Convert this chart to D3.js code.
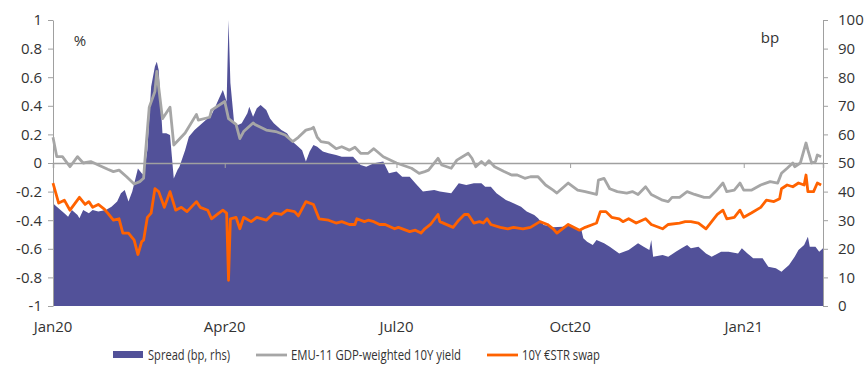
<!DOCTYPE html>
<html><head><meta charset="utf-8">
<script src="https://cdn.jsdelivr.net/npm/d3@7/dist/d3.min.js"></script>
<style>
body{margin:0;background:#fff;}
text{font-family:"Open Sans","Noto Sans",sans-serif;fill:#333;}
</style></head>
<body><svg id="c" width="865" height="365"></svg>
<script>
// ---- data ----
const xTickDates = ["2020-01-01","2020-04-01","2020-07-01","2020-10-01","2021-01-01"];
const xTickLabels = ["Jan20","Apr20","Jul20","Oct20","Jan21"];
const leftTicks = [1,0.8,0.6,0.4,0.2,0,-0.2,-0.4,-0.6,-0.8,-1];
const rightTicks = [0,10,20,30,40,50,60,70,80,90,100];

const spreadDates = ["2020-01-01","2020-01-03","2020-01-07","2020-01-09","2020-01-11","2020-01-14","2020-01-15","2020-01-17","2020-01-20","2020-01-22","2020-01-25","2020-01-29","2020-02-01","2020-02-04","2020-02-06","2020-02-08","2020-02-10","2020-02-12","2020-02-15","2020-02-17","2020-02-18","2020-02-20","2020-02-22","2020-02-24","2020-02-25","2020-02-26","2020-02-28","2020-03-01","2020-03-03","2020-03-04","2020-03-05","2020-03-07","2020-03-08","2020-03-11","2020-03-13","2020-03-16","2020-03-19","2020-03-22","2020-03-25","2020-03-27","2020-03-29","2020-03-31","2020-04-02","2020-04-03","2020-04-04","2020-04-06","2020-04-08","2020-04-10","2020-04-13","2020-04-14","2020-04-16","2020-04-18","2020-04-20","2020-04-23","2020-04-25","2020-04-27","2020-05-01","2020-05-04","2020-05-07","2020-05-10","2020-05-12","2020-05-14","2020-05-16","2020-05-18","2020-05-20","2020-05-23","2020-05-26","2020-05-30","2020-06-02","2020-06-08","2020-06-12","2020-06-15","2020-06-19","2020-06-24","2020-06-27","2020-07-01","2020-07-04","2020-07-08","2020-07-11","2020-07-15","2020-07-21","2020-07-24","2020-07-30","2020-08-03","2020-08-07","2020-08-11","2020-08-15","2020-08-17","2020-08-20","2020-08-23","2020-08-28","2020-09-01","2020-09-05","2020-09-08","2020-09-12","2020-09-14","2020-09-17","2020-09-20","2020-09-22","2020-09-27","2020-09-30","2020-10-04","2020-10-07","2020-10-08","2020-10-10","2020-10-13","2020-10-15","2020-10-19","2020-10-22","2020-10-27","2020-11-01","2020-11-06","2020-11-09","2020-11-12","2020-11-13","2020-11-14","2020-11-19","2020-11-22","2020-11-26","2020-11-29","2020-12-02","2020-12-04","2020-12-08","2020-12-12","2020-12-15","2020-12-20","2020-12-24","2020-12-29","2020-12-31","2021-01-03","2021-01-06","2021-01-11","2021-01-14","2021-01-18","2021-01-21","2021-01-22","2021-01-25","2021-01-28","2021-01-30","2021-02-02","2021-02-04","2021-02-05","2021-02-08","2021-02-10","2021-02-12"];
const spreadValues = [35.9,34.7,32.4,31.2,33.6,31.8,30.7,33.6,32.4,33.6,33,33.6,34.7,36.5,39.4,40.6,36.5,40,48.1,46.4,45.8,54.5,76.7,83.7,85.4,82.5,60.4,60.4,59.8,52.2,44.6,47.6,48.7,54.5,59.2,61.5,63.3,65,66.8,69.7,72.6,75.5,71.4,100,78,63.9,63.3,63.9,67.4,69.7,66.2,69.1,70.3,68.5,65.6,63.9,61.5,60.4,57.4,55.7,54.5,50.5,54,56.3,55.7,54,53.4,52.8,52.2,52.2,49.3,48.7,49.9,50.5,46.4,47,45.2,45.2,42.9,40,40.6,40,39.4,42.9,42.3,42.9,42.9,41.7,41.7,39.4,37.1,35.9,34.7,33,31.8,30.7,28.3,28,27.5,27.7,28.3,27.2,26.6,23.7,22.5,21.3,23.1,21.9,20.7,18.4,19.6,21.9,20.7,19.6,23.1,17.2,17.8,17.2,19,20.2,21.3,20.2,20.7,18.4,17.2,19,19,18.4,20.2,18.4,16.7,16.7,13.7,13.2,12,12.6,14.3,17.2,19.6,21.3,24.2,20.7,20.7,19,20.2];

const yieldDates = ["2020-01-01","2020-01-03","2020-01-06","2020-01-10","2020-01-14","2020-01-17","2020-01-21","2020-01-25","2020-01-30","2020-02-02","2020-02-05","2020-02-09","2020-02-13","2020-02-16","2020-02-18","2020-02-19","2020-02-21","2020-02-24","2020-02-25","2020-02-28","2020-03-03","2020-03-05","2020-03-11","2020-03-17","2020-03-18","2020-03-24","2020-03-25","2020-04-01","2020-04-03","2020-04-07","2020-04-09","2020-04-11","2020-04-16","2020-04-17","2020-04-23","2020-04-28","2020-05-03","2020-05-07","2020-05-10","2020-05-14","2020-05-17","2020-05-18","2020-05-20","2020-05-22","2020-05-26","2020-05-30","2020-06-02","2020-06-06","2020-06-09","2020-06-12","2020-06-16","2020-06-19","2020-06-24","2020-07-01","2020-07-04","2020-07-09","2020-07-13","2020-07-16","2020-07-18","2020-07-23","2020-07-25","2020-07-30","2020-08-02","2020-08-08","2020-08-10","2020-08-12","2020-08-15","2020-08-17","2020-08-19","2020-08-22","2020-08-27","2020-08-31","2020-09-03","2020-09-07","2020-09-10","2020-09-14","2020-09-18","2020-09-22","2020-09-24","2020-09-30","2020-10-05","2020-10-09","2020-10-15","2020-10-16","2020-10-19","2020-10-22","2020-10-26","2020-10-31","2020-11-03","2020-11-06","2020-11-10","2020-11-13","2020-11-19","2020-11-22","2020-11-24","2020-11-28","2020-12-02","2020-12-06","2020-12-11","2020-12-14","2020-12-17","2020-12-21","2020-12-23","2020-12-27","2020-12-30","2021-01-01","2021-01-05","2021-01-10","2021-01-15","2021-01-19","2021-01-21","2021-01-24","2021-01-27","2021-01-28","2021-01-31","2021-02-03","2021-02-04","2021-02-06","2021-02-08","2021-02-09","2021-02-11"];
const yieldValues = [0.18,0.044,0.044,-0.026,0.044,0,0.01,-0.014,-0.044,-0.06,-0.05,-0.096,-0.147,-0.13,-0.107,0.07,0.39,0.5,0.64,0.31,0.39,0.126,0.21,0.34,0.30,0.32,0.37,0.43,0.31,0.27,0.17,0.22,0.28,0.27,0.23,0.22,0.196,0.15,0.18,0.23,0.24,0.25,0.18,0.15,0.14,0.10,0.114,0.09,0.11,0.068,0.068,0.10,0.044,0,-0.014,-0.037,-0.072,-0.06,-0.05,0.033,-0.014,-0.037,0.02,0.068,0.033,-0.026,0.01,-0.014,0.016,-0.026,-0.06,-0.084,-0.084,-0.107,-0.096,-0.096,-0.154,-0.19,-0.21,-0.14,-0.19,-0.20,-0.22,-0.12,-0.107,-0.18,-0.20,-0.21,-0.20,-0.22,-0.166,-0.22,-0.26,-0.27,-0.24,-0.24,-0.20,-0.22,-0.24,-0.24,-0.20,-0.14,-0.20,-0.19,-0.14,-0.19,-0.19,-0.154,-0.13,-0.14,-0.072,-0.037,0,-0.026,0,0.14,0.09,0,0.01,0.056,0.044];

const swapDates = ["2020-01-01","2020-01-04","2020-01-07","2020-01-10","2020-01-15","2020-01-18","2020-01-20","2020-01-22","2020-01-25","2020-01-28","2020-01-30","2020-02-02","2020-02-05","2020-02-07","2020-02-10","2020-02-13","2020-02-15","2020-02-17","2020-02-18","2020-02-20","2020-02-22","2020-02-24","2020-02-26","2020-02-29","2020-03-03","2020-03-06","2020-03-09","2020-03-12","2020-03-17","2020-03-19","2020-03-23","2020-03-25","2020-03-28","2020-03-31","2020-04-02","2020-04-03","2020-04-04","2020-04-07","2020-04-09","2020-04-11","2020-04-15","2020-04-18","2020-04-23","2020-04-27","2020-05-01","2020-05-04","2020-05-08","2020-05-10","2020-05-14","2020-05-18","2020-05-21","2020-05-26","2020-05-30","2020-06-02","2020-06-06","2020-06-09","2020-06-10","2020-06-14","2020-06-16","2020-06-19","2020-06-22","2020-06-25","2020-06-30","2020-07-02","2020-07-08","2020-07-11","2020-07-14","2020-07-16","2020-07-19","2020-07-23","2020-07-24","2020-07-31","2020-08-03","2020-08-06","2020-08-08","2020-08-11","2020-08-14","2020-08-16","2020-08-18","2020-08-20","2020-08-25","2020-08-29","2020-09-01","2020-09-06","2020-09-10","2020-09-15","2020-09-19","2020-09-22","2020-09-24","2020-09-30","2020-10-06","2020-10-09","2020-10-13","2020-10-15","2020-10-17","2020-10-20","2020-10-23","2020-10-27","2020-10-29","2020-11-01","2020-11-05","2020-11-10","2020-11-13","2020-11-19","2020-11-22","2020-11-28","2020-12-01","2020-12-04","2020-12-08","2020-12-12","2020-12-15","2020-12-18","2020-12-21","2020-12-23","2020-12-27","2020-12-30","2021-01-01","2021-01-05","2021-01-10","2021-01-13","2021-01-17","2021-01-20","2021-01-21","2021-01-24","2021-01-27","2021-01-30","2021-02-02","2021-02-03","2021-02-04","2021-02-07","2021-02-09","2021-02-11"];
const swapValues = [-0.14,-0.28,-0.26,-0.33,-0.24,-0.29,-0.27,-0.31,-0.29,-0.32,-0.35,-0.40,-0.39,-0.49,-0.49,-0.54,-0.64,-0.55,-0.54,-0.38,-0.35,-0.18,-0.20,-0.31,-0.20,-0.33,-0.31,-0.34,-0.27,-0.31,-0.33,-0.39,-0.36,-0.33,-0.35,-0.82,-0.39,-0.38,-0.46,-0.38,-0.41,-0.38,-0.40,-0.35,-0.36,-0.33,-0.34,-0.37,-0.27,-0.29,-0.39,-0.40,-0.42,-0.41,-0.43,-0.43,-0.39,-0.41,-0.40,-0.41,-0.43,-0.43,-0.46,-0.45,-0.48,-0.47,-0.49,-0.46,-0.43,-0.36,-0.41,-0.45,-0.40,-0.36,-0.36,-0.42,-0.41,-0.42,-0.39,-0.43,-0.45,-0.46,-0.45,-0.46,-0.45,-0.41,-0.43,-0.46,-0.49,-0.43,-0.47,-0.45,-0.43,-0.42,-0.34,-0.34,-0.38,-0.39,-0.41,-0.39,-0.42,-0.39,-0.43,-0.46,-0.43,-0.42,-0.41,-0.41,-0.42,-0.46,-0.41,-0.36,-0.33,-0.39,-0.38,-0.33,-0.38,-0.35,-0.31,-0.26,-0.27,-0.25,-0.18,-0.154,-0.166,-0.14,-0.154,-0.084,-0.20,-0.20,-0.14,-0.154];

const legendLabels = ["Spread (bp, rhs)","EMU-11 GDP-weighted 10Y yield","10Y €STR swap"];
const colors = {spread:"#525199", yield:"#a6a6a6", swap:"#ff6200"};

// ---- chart ----
const parse = d3.timeParse("%Y-%m-%d");
const svg = d3.select("#c");
const L = 53, R = 823, T = 20, B = 306;

const x = d3.scaleTime().domain([parse("2020-01-01"), parse("2021-02-12")]).range([L, R]);
const yL = d3.scaleLinear().domain([-1, 1]).range([B, T]);
const yR = d3.scaleLinear().domain([0, 100]).range([B, T]);

const spread = spreadDates.map((d,i)=>({d:parse(d), v:spreadValues[i]}));
const yld = yieldDates.map((d,i)=>({d:parse(d), v:yieldValues[i]}));
const swap = swapDates.map((d,i)=>({d:parse(d), v:swapValues[i]}));

svg.append("path").datum(spread)
  .attr("fill", colors.spread)
  .attr("d", d3.area().x(d=>x(d.d)).y0(yR(0)).y1(d=>yR(d.v)));

// zero line with x ticks
const xAxis = svg.append("g").attr("transform",`translate(0,${yL(0)})`)
  .call(d3.axisBottom(x).tickValues(xTickDates.map(parse)).tickSize(5).tickFormat(""));
xAxis.select(".domain").attr("stroke","#a0a0a0").attr("stroke-width",1.5);
xAxis.selectAll(".tick line").attr("stroke","#a0a0a0");

// x labels at bottom
svg.append("g").selectAll("text").data(xTickDates).join("text")
  .attr("x", d=>x(parse(d))).attr("y", 332)
  .attr("text-anchor","middle").attr("font-size",15)
  .text((d,i)=>xTickLabels[i]);

// left axis
const gl = svg.append("g").attr("transform",`translate(${L},0)`)
  .call(d3.axisLeft(yL).tickValues(leftTicks).tickSize(5).tickSizeOuter(0).tickPadding(6).tickFormat(d=>String(d)));
gl.select(".domain").attr("stroke","#a0a0a0");
gl.selectAll(".tick line").attr("stroke","#a0a0a0");
gl.selectAll(".tick text").attr("font-size",15).attr("fill","#333").attr("font-family",'"Open Sans","Noto Sans",sans-serif');

// right axis
const gr = svg.append("g").attr("transform",`translate(${R},0)`)
  .call(d3.axisRight(yR).tickValues(rightTicks).tickSize(5).tickSizeOuter(0).tickPadding(10));
gr.select(".domain").attr("stroke","#a0a0a0");
gr.selectAll(".tick line").attr("stroke","#a0a0a0");
gr.selectAll(".tick text").attr("font-size",15).attr("fill","#333").attr("font-family",'"Open Sans","Noto Sans",sans-serif');

// lines
const line = d3.line().x(d=>x(d.d)).y(d=>yL(d.v));
svg.append("path").datum(yld).attr("fill","none").attr("stroke",colors.yield).attr("stroke-width",2.8).attr("stroke-linejoin","round").attr("d",line);
svg.append("path").datum(swap).attr("fill","none").attr("stroke",colors.swap).attr("stroke-width",2.8).attr("stroke-linejoin","round").attr("d",line);

// unit labels
svg.append("text").attr("x",80).attr("y",46).attr("text-anchor","middle").attr("font-size",15).text("%");
svg.append("text").attr("x",770).attr("y",43).attr("text-anchor","middle").attr("font-size",15).text("bp");

// legend
const lg = svg.append("g");
lg.append("rect").attr("x",113).attr("y",351).attr("width",30).attr("height",7).attr("fill",colors.spread);
lg.append("text").attr("x",148).attr("y",360).attr("font-size",15).attr("textLength",82).attr("lengthAdjust","spacingAndGlyphs").text(legendLabels[0]);
lg.append("line").attr("x1",256).attr("x2",287).attr("y1",355).attr("y2",355).attr("stroke",colors.yield).attr("stroke-width",2.8);
lg.append("text").attr("x",291).attr("y",360).attr("font-size",15).attr("textLength",170).attr("lengthAdjust","spacingAndGlyphs").text(legendLabels[1]);
lg.append("line").attr("x1",487).attr("x2",518).attr("y1",355).attr("y2",355).attr("stroke",colors.swap).attr("stroke-width",2.8);
lg.append("text").attr("x",522).attr("y",360).attr("font-size",15).attr("textLength",78).attr("lengthAdjust","spacingAndGlyphs").text(legendLabels[2]);
</script></body></html>
